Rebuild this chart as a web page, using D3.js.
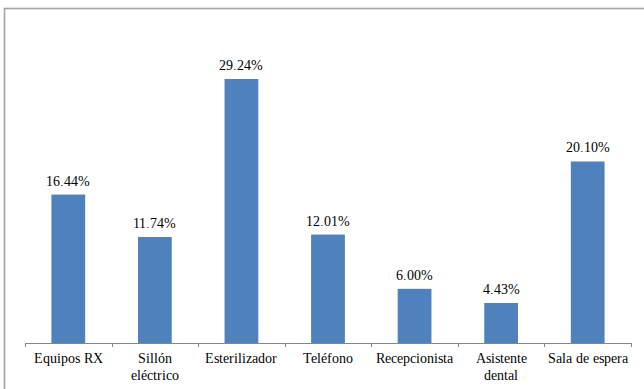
<!DOCTYPE html>
<html><head><meta charset="utf-8">
<style>
  @font-face { font-family: "ChartSerif"; src: local("Liberation Serif"), local("LiberationSerif"), local("Times New Roman"); }
  body { margin: 0; }
  #chart text { font-family: "ChartSerif", "Liberation Serif", "Times New Roman", serif; font-size: 14px; }
</style>
<script src="https://cdn.jsdelivr.net/npm/d3@7"></script></head>
<body>
<svg id="chart" width="644" height="389"></svg>
<script>
// Share of each item (percent)
const categories = ["Equipos RX", "Sillón eléctrico", "Esterilizador", "Teléfono", "Recepcionista", "Asistente dental", "Sala de espera"];
const categoryLines = [["Equipos RX"], ["Sillón", "eléctrico"], ["Esterilizador"], ["Teléfono"], ["Recepcionista"], ["Asistente", "dental"], ["Sala de espera"]];
const values = [16.44, 11.74, 29.24, 12.01, 6.00, 4.43, 20.10];

const svg = d3.select("#chart");

// outer chart frame (runs off the right and bottom edges)
svg.append("rect")
  .attr("x", 4.5).attr("y", 8.5)
  .attr("width", 700).attr("height", 420)
  .attr("fill", "none")
  .attr("stroke", "#a3a3a3")
  .attr("stroke-width", 1.6);

const left = 25, right = 631, baseY = 343;
const pxPerUnit = 9.03;

const x = d3.scaleBand()
  .domain(categories)
  .range([left, right])
  .paddingInner(0.61)
  .paddingOuter(0.305);

const y = d3.scaleLinear()
  .domain([0, 35])
  .range([baseY, baseY - 35 * pxPerUnit]);

// bars
svg.append("g").selectAll("rect")
  .data(values)
  .join("rect")
  .attr("x", (d, i) => x(categories[i]))
  .attr("y", d => y(d))
  .attr("width", x.bandwidth())
  .attr("height", d => y(0) - y(d))
  .attr("fill", "#4f81bd");

// value labels
svg.append("g").selectAll("text")
  .data(values)
  .join("text")
  .attr("x", (d, i) => x(categories[i]) + x.bandwidth() / 2)
  .attr("y", d => y(d) - 9)
  .attr("text-anchor", "middle")
  .attr("fill", "#000")
  .text(d => d.toFixed(2) + "%");

// category axis with boundary ticks
const axisG = svg.append("g");
axisG.append("line")
  .attr("x1", left).attr("x2", right)
  .attr("y1", baseY + 0.5).attr("y2", baseY + 0.5)
  .attr("stroke", "#868686").attr("stroke-width", 1);

const boundaries = d3.range(categories.length + 1).map(i => left + i * (right - left) / categories.length);
axisG.selectAll("line.tick")
  .data(boundaries)
  .join("line")
  .attr("class", "tick")
  .attr("x1", d => Math.round(d) + 0.5).attr("x2", d => Math.round(d) + 0.5)
  .attr("y1", baseY).attr("y2", baseY + 4)
  .attr("stroke", "#868686").attr("stroke-width", 1);

// category labels, one text per line
const labelRows = [];
categories.forEach((c, i) => categoryLines[i].forEach((line, j) => labelRows.push({c, line, j})));
svg.append("g").selectAll("text")
  .data(labelRows)
  .join("text")
  .attr("x", d => x(d.c) + x.bandwidth() / 2)
  .attr("y", d => baseY + 20 + d.j * 17)
  .attr("text-anchor", "middle")
  .attr("fill", "#000")
  .text(d => d.line);
</script>
</body></html>
